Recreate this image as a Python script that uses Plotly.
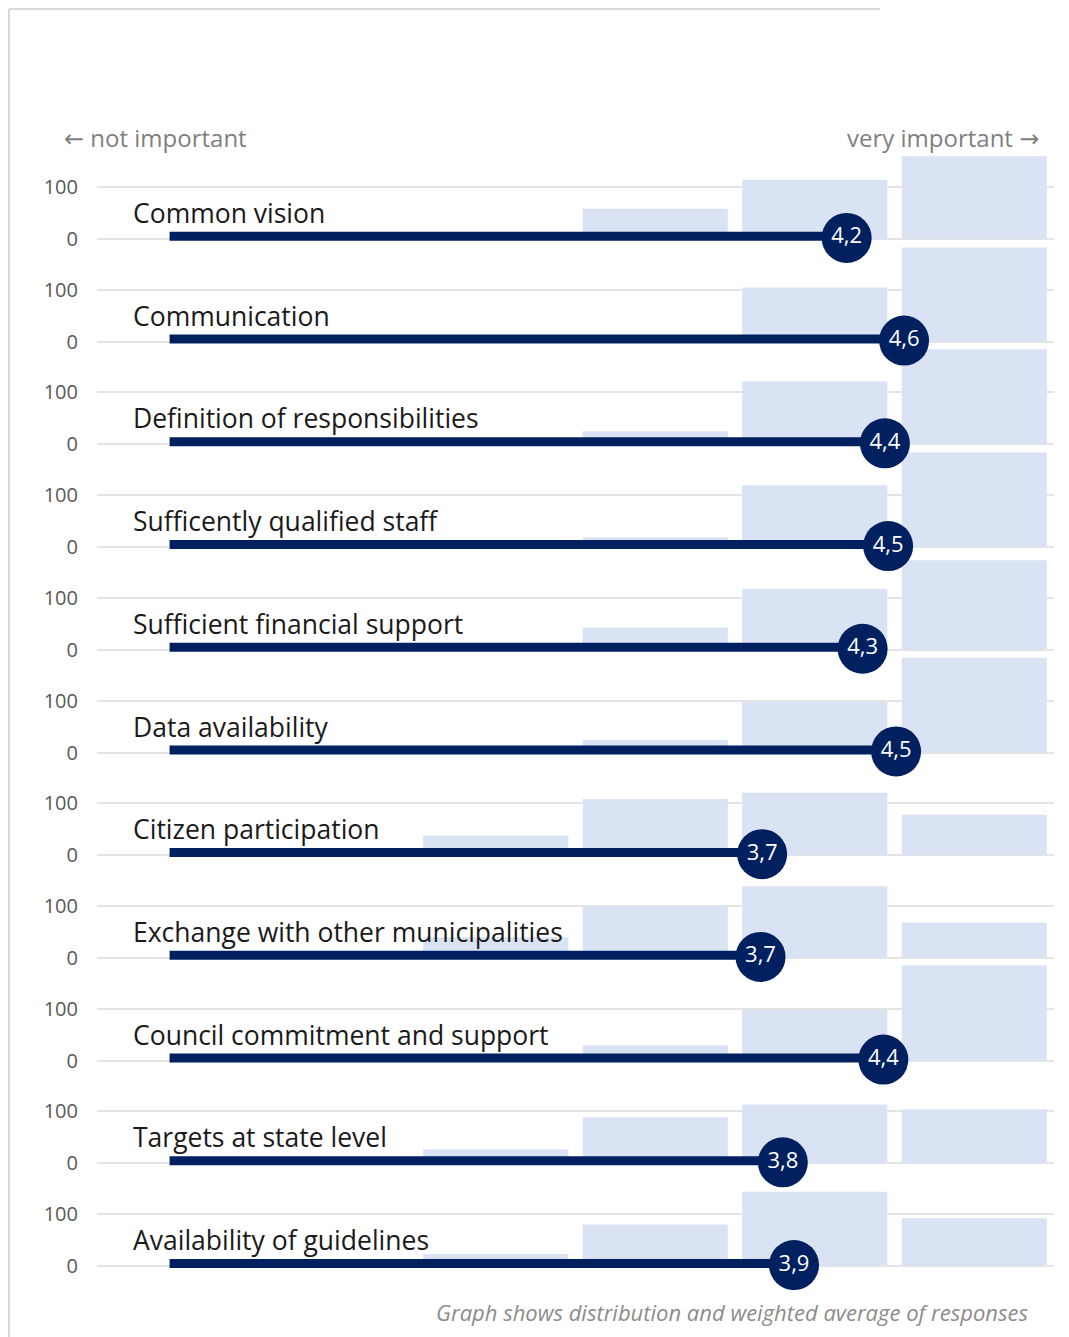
import plotly.graph_objects as go

# survey items, top to bottom
categories = [
    "Common vision",
    "Communication",
    "Definition of responsibilities",
    "Sufficently qualified staff",
    "Sufficient financial support",
    "Data availability",
    "Citizen participation",
    "Exchange with other municipalities",
    "Council commitment and support",
    "Targets at state level",
    "Availability of guidelines",
]

# distribution of answers per score (1 = not important ... 5 = very important)
scores = [1, 2, 3, 4, 5]
score_1 = [0, 0, 0, 0, 0, 0, 0, 0, 0, 0, 0]
score_2 = [0, 0, 0, 0, 0, 0, 38, 40, 0, 27, 23]
score_3 = [58, 0, 25, 19, 43, 24, 108, 100, 29, 88, 80]
score_4 = [114, 104, 121, 119, 117, 97, 120, 138, 98, 113, 143]
score_5 = [159, 181, 183, 182, 172, 182, 78, 68, 183, 104, 92]

# weighted average per item (label shows one decimal)
averages = [4.20, 4.56, 4.44, 4.46, 4.30, 4.51, 3.67, 3.66, 4.43, 3.80, 3.87]

# page body has an 8px margin, so the figure is a bit smaller and shifted
PAD = 8
W, H = 1069 - PAD, 1337 - PAD
ML, MR, MT, MB = 97 - PAD, 15, 150 - PAD, 47
ROW_STEP = 197.5
n = len(categories)
offsets = [ROW_STEP * (n - 1 - i) for i in range(n)]

NAVY = "#00205f"
BAR = "#dae3f3"
GRID = "#e4e4e4"
FONT = "Open Sans"
LINE_UP = 5
DOT_UP = 2
LINE_START = -0.045


def px_x(p):
    return (p - PAD - ML) / (W - ML - MR)


def px_y(p):
    return (H - MB - (p - PAD)) / (H - MT - MB)


fig = go.Figure()

for s, vals in zip(scores, [score_1, score_2, score_3, score_4, score_5]):
    fig.add_trace(go.Bar(
        x=[s] * n,
        y=vals,
        base=offsets,
        width=0.91,
        marker=dict(color=BAR, line=dict(width=0)),
        hoverinfo="skip",
        showlegend=False,
    ))

# average lines from 0 to the mean
for o, avg in zip(offsets, averages):
    fig.add_trace(go.Scatter(
        x=[LINE_START, avg], y=[o + LINE_UP, o + LINE_UP],
        mode="lines",
        line=dict(color=NAVY, width=9),
        hoverinfo="skip",
        showlegend=False,
    ))

fig.add_trace(go.Scatter(
    x=averages,
    y=[o + DOT_UP for o in offsets],
    mode="markers+text",
    marker=dict(color=NAVY, size=50, line=dict(width=0)),
    text=[f"{a:.1f}".replace(".", ",") for a in averages],
    textposition="middle center",
    textfont=dict(color="white", size=22, family=FONT),
    hoverinfo="skip",
    showlegend=False,
))

for o, name in zip(offsets, categories):
    fig.add_annotation(
        x=-0.29, y=o + 50, xref="x", yref="y",
        text=name, showarrow=False, xanchor="left", yanchor="middle",
        font=dict(size=26.5, color="#1a1a1a", family=FONT),
    )

tickvals, ticktext = [], []
for o in offsets:
    tickvals += [o, o + 100]
    ticktext += ["0", "100"]

ARROW = "font-family:'DejaVu Sans'"
fig.add_annotation(
    x=px_x(62), y=px_y(137), xref="paper", yref="paper",
    text=f"<span style=\"{ARROW}\">←</span> not important",
    showarrow=False, xanchor="left", yanchor="middle",
    font=dict(size=24, color="#7f7f7f", family=FONT),
)
fig.add_annotation(
    x=px_x(1041), y=px_y(137), xref="paper", yref="paper",
    text=f"very important <span style=\"{ARROW}\">→</span>",
    showarrow=False, xanchor="right", yanchor="middle",
    font=dict(size=24, color="#7f7f7f", family=FONT),
)
fig.add_annotation(
    x=px_x(1030), y=px_y(1312), xref="paper", yref="paper",
    text="<i>Graph shows distribution and weighted average of responses</i>",
    showarrow=False, xanchor="right", yanchor="middle",
    font=dict(size=22, color="#8c8c8c", family=FONT),
)

# frame lines of the original panel
fig.add_shape(type="line", xref="paper", yref="paper",
              x0=px_x(9), x1=px_x(9), y0=px_y(9), y1=px_y(1337),
              line=dict(color="#d9d9d9", width=2))
fig.add_shape(type="line", xref="paper", yref="paper",
              x0=px_x(9), x1=px_x(880), y0=px_y(9), y1=px_y(9),
              line=dict(color="#d9d9d9", width=2))

fig.update_layout(
    width=W, height=H,
    margin=dict(l=ML, r=MR, t=MT, b=MB),
    paper_bgcolor="white", plot_bgcolor="white",
    barmode="overlay",
    font=dict(family=FONT),
    xaxis=dict(range=[-0.5, 5.5], showgrid=False, zeroline=False,
               showticklabels=False, fixedrange=True),
    yaxis=dict(range=[-46, 2146], tickvals=tickvals, ticktext=ticktext,
               showgrid=True, gridcolor=GRID, gridwidth=2, zeroline=False,
               ticklabelstandoff=18,
               tickfont=dict(size=20, color="#595959", family=FONT)),
)

fig.write_html("out.html")
